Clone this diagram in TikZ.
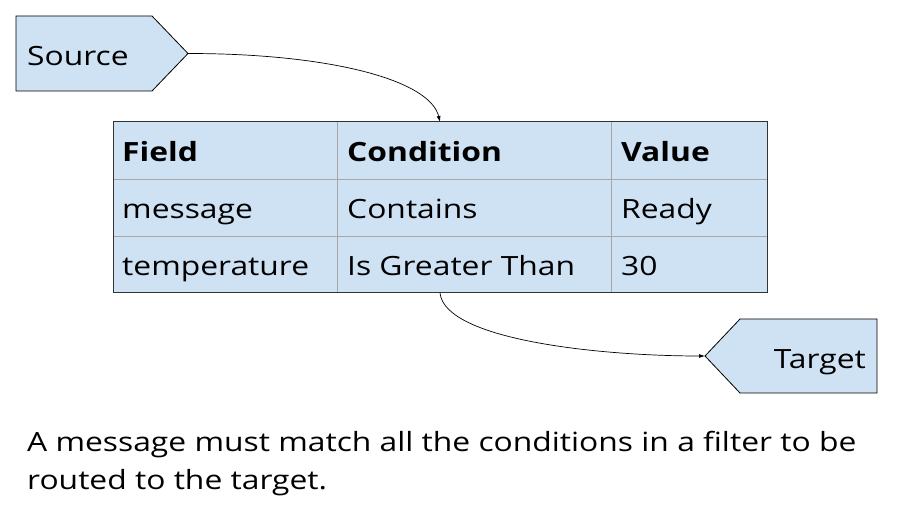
\documentclass[tikz,border=0pt]{standalone}
\usepackage{fontspec}
\setmainfont{Open Sans}[FakeStretch=1.2]
\usetikzlibrary{arrows.meta}
\begin{document}
\begin{tikzpicture}[x=1pt,y=-1pt,
  shapefill/.style={fill=boxblue,draw=black,line width=0.8pt},
  celltext/.style={anchor=base west,inner sep=0pt,font=\fontsize{26.5}{30}\selectfont},
  headtext/.style={celltext,font=\fontsize{26.5}{30}\selectfont\bfseries},
  conn/.style={draw=black,line width=0.7pt,-{Latex[length=6pt,width=4pt]}}]
\definecolor{boxblue}{HTML}{CFE2F3}
\definecolor{gridgrey}{HTML}{A6A6A6}
\useasboundingbox (0,0) rectangle (898,529);
\fill[white] (0,0) rectangle (898,529);

% source tag
\draw[shapefill] (16,16) -- (152,16) -- (188,53.5) -- (152,91) -- (16,91) -- cycle;
\node[celltext] (src) at (27,66) {Source};
\coordinate (srcout) at (188,53.5);

% target tag
\draw[shapefill] (877,319) -- (740,319) -- (705,356) -- (740,393) -- (877,393) -- cycle;
\node[celltext,anchor=base east] (tgt) at (866,369) {Target};
\coordinate (tgtin) at (705,356);

% filter table
\fill[boxblue] (113,122) rectangle (767,293);
\draw[gridgrey,line width=0.8pt] (113,179) -- (767,179) (113,236) -- (767,236)
  (337,122) -- (337,293) (611,122) -- (611,293);
\draw[black!80,line width=1pt] (113,122) rectangle (767,293);
\coordinate (tabtop) at (440,122);
\coordinate (tabbot) at (440,293);

\node[headtext] (h1) at (122,162) {Field};
\node[headtext] (h2) at (347,162) {Condition};
\node[headtext] (h3) at (621,162) {Value};
\node[celltext] (a1) at (122,219) {message};
\node[celltext] (a2) at (347,219) {Contains};
\node[celltext] (a3) at (621,219) {Ready};
\node[celltext] (b1) at (122,276) {temperature};
\node[celltext] (b2) at (347,276) {Is Greater Than};
\node[celltext] (b3) at (621,276) {30};

% connectors
\draw[conn] (srcout) .. controls (330,53.5) and (430,80) .. (tabtop);
\draw[conn] (tabbot) .. controls (445,340) and (600,356) .. (tgtin);

% caption
\node[celltext] (cap1) at (27,452) {A message must match all the conditions in a filter to be};
\node[celltext] (cap2) at (27,490) {routed to the target.};
\end{tikzpicture}
\end{document}
